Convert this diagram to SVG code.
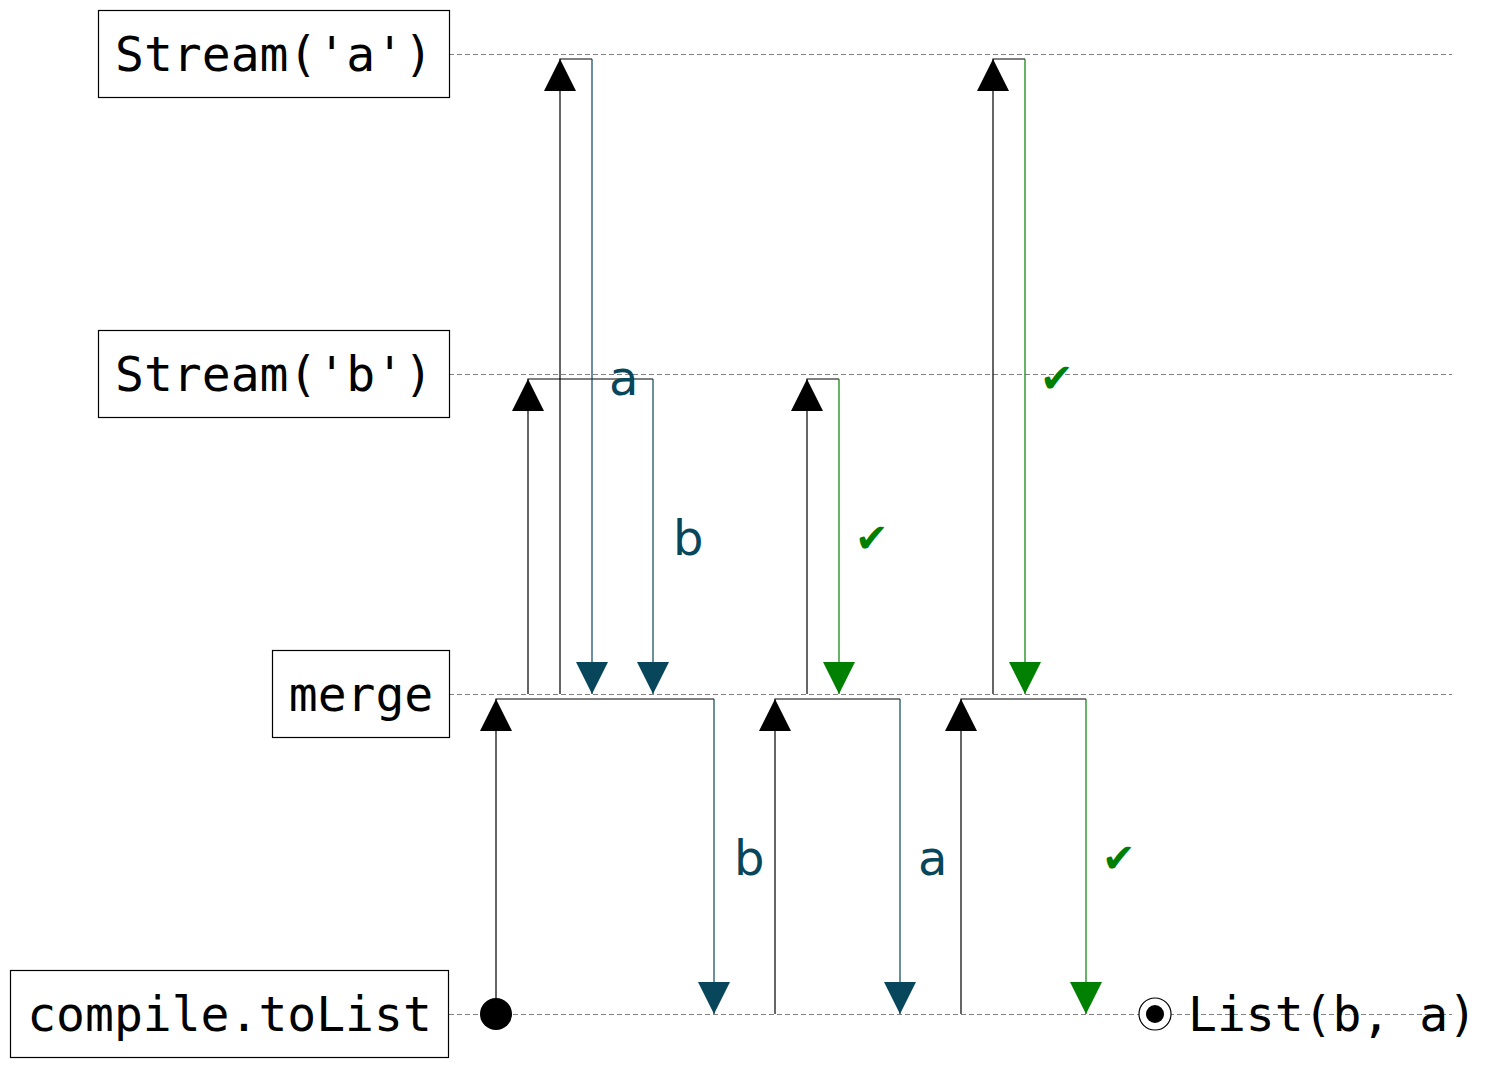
<svg xmlns="http://www.w3.org/2000/svg" width="1488" height="1068" viewBox="0 0 1488 1068">
<style>
.box{fill:#fff;stroke:#000;stroke-width:1.2}
.nt{font-family:"DejaVu Sans Mono","Liberation Mono",monospace;font-size:48px;fill:#000}
.lane{stroke:#808080;stroke-width:1;stroke-dasharray:5,3;fill:none}
.req{stroke:#000;stroke-width:1.2;fill:none}
.rt{stroke:#07465b;stroke-width:1.2;fill:none}
.rg{stroke:#008000;stroke-width:1.2;fill:none}
.ht{fill:#000}
.htt{fill:#07465b}
.htg{fill:#008000}
.lt{font-family:"DejaVu Sans","Liberation Sans",sans-serif;font-size:48px;fill:#07465b}
.lg{font-family:"DejaVu Sans","Liberation Sans",sans-serif;font-size:40px;fill:#008000}
</style>
<rect width="1488" height="1068" fill="#fff"/>
<g id="lanes">
<line class="lane" x1="449" y1="54.5" x2="1452" y2="54.5"/>
<line class="lane" x1="449" y1="374.5" x2="1452" y2="374.5"/>
<line class="lane" x1="449" y1="694.5" x2="1452" y2="694.5"/>
<line class="lane" x1="449" y1="1014.5" x2="1452" y2="1014.5"/>
</g>
<g id="node-stream-a">
<rect class="box" x="98.5" y="10.5" width="351" height="87"/>
<text class="nt" x="274" y="71" text-anchor="middle">Stream('a')</text>
</g>
<g id="node-stream-b">
<rect class="box" x="98.5" y="330.5" width="351" height="87"/>
<text class="nt" x="274" y="391" text-anchor="middle">Stream('b')</text>
</g>
<g id="node-merge">
<rect class="box" x="272.5" y="650.5" width="177" height="87"/>
<text class="nt" x="361" y="711" text-anchor="middle">merge</text>
</g>
<g id="node-compile">
<rect class="box" x="10.5" y="970.5" width="438" height="87"/>
<text class="nt" x="229.5" y="1031" text-anchor="middle">compile.toList</text>
</g>
<g id="connectors">
<!-- 1: compile -> merge, b -->
<circle cx="496" cy="1014" r="16" fill="#000"/>
<path class="req" d="M496,1014 V699 H714"/>
<polygon class="ht" points="496,699 480,731 512,731"/>
<path class="rt" d="M714,699 V1014"/>
<polygon class="htt" points="714,1014 698,982 730,982"/>
<text class="lt" x="734" y="875">b</text>
<!-- 2: merge -> stream b, b -->
<path class="req" d="M528,694 V379 H653"/>
<polygon class="ht" points="528,379 512,411 544,411"/>
<path class="rt" d="M653,379 V694"/>
<polygon class="htt" points="653,694 637,662 669,662"/>
<text class="lt" x="673" y="555">b</text>
<!-- 3: merge -> stream a, a -->
<path class="req" d="M560,694 V59 H592"/>
<polygon class="ht" points="560,59 544,91 576,91"/>
<path class="rt" d="M592,59 V694"/>
<polygon class="htt" points="592,694 576,662 608,662"/>
<text class="lt" x="609" y="395">a</text>
<!-- 4: compile -> merge, a -->
<path class="req" d="M775,1014 V699 H900"/>
<polygon class="ht" points="775,699 759,731 791,731"/>
<path class="rt" d="M900,699 V1014"/>
<polygon class="htt" points="900,1014 884,982 916,982"/>
<text class="lt" x="918" y="875">a</text>
<!-- 5: merge -> stream b, done -->
<path class="req" d="M807,694 V379 H839"/>
<polygon class="ht" points="807,379 791,411 823,411"/>
<path class="rg" d="M839,379 V694"/>
<polygon class="htg" points="839,694 823,662 855,662"/>
<text class="lg" x="855" y="552">✔</text>
<!-- 6: compile -> merge, done -->
<path class="req" d="M961,1014 V699 H1086"/>
<polygon class="ht" points="961,699 945,731 977,731"/>
<path class="rg" d="M1086,699 V1014"/>
<polygon class="htg" points="1086,1014 1070,982 1102,982"/>
<text class="lg" x="1102" y="872">✔</text>
<!-- 7: merge -> stream a, done -->
<path class="req" d="M993,694 V59 H1025"/>
<polygon class="ht" points="993,59 977,91 1009,91"/>
<path class="rg" d="M1025,59 V694"/>
<polygon class="htg" points="1025,694 1009,662 1041,662"/>
<text class="lg" x="1040" y="392">✔</text>
</g>
<g id="result">
<circle cx="1155" cy="1014" r="16" fill="#fff" stroke="#000" stroke-width="1.2"/>
<circle cx="1155" cy="1014" r="9" fill="#000"/>
<text class="nt" x="1188" y="1031">List(b, a)</text>
</g>
</svg>
